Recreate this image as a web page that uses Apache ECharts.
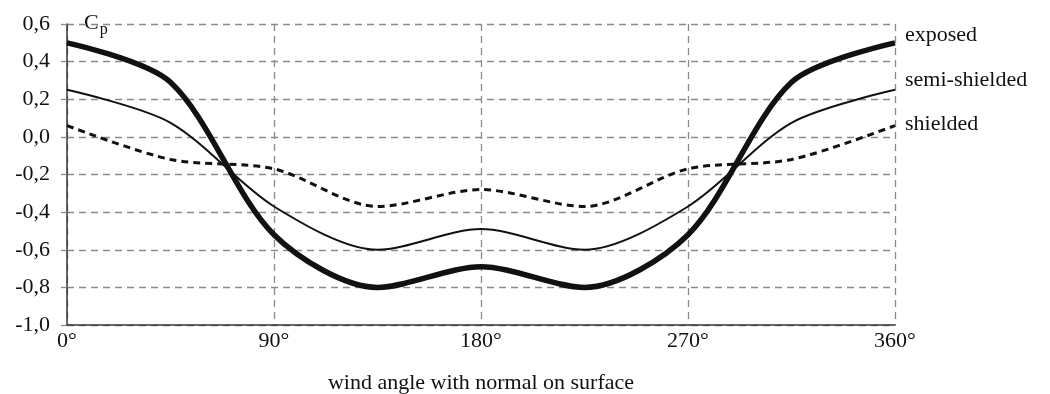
<!DOCTYPE html>
<html>
<head>
<meta charset="utf-8">
<script src="https://cdn.jsdelivr.net/npm/echarts@6/dist/echarts.min.js"></script>
<style>html,body{margin:0;padding:0;background:#fff;}#c{width:1050px;height:394px;}</style>
</head>
<body>
<div id="c"></div>
<script>
const angles = [0, 45, 90, 135, 180, 225, 270, 315, 360];
const exposed = [0.50, 0.29, -0.52, -0.80, -0.69, -0.80, -0.52, 0.29, 0.50];
const semiShielded = [0.25, 0.075, -0.37, -0.60, -0.49, -0.60, -0.37, 0.075, 0.25];
const shielded = [0.06, -0.12, -0.17, -0.37, -0.28, -0.37, -0.17, -0.12, 0.06];
const seriesNames = ['exposed', 'semi-shielded', 'shielded'];
const xTicks = [0, 90, 180, 270, 360];
const xTitle = 'wind angle with normal on surface';

const FONT = '"Liberation Serif", "DejaVu Serif", serif';
const FS = 22;
const pair = arr => angles.map((a, i) => [a, arr[i]]);

const chart = echarts.init(document.getElementById('c'));
const mk = (name, data, width, type, smooth, off) => ({
  name, type: 'line', data: pair(data), smooth, symbol: 'none',
  lineStyle: { color: '#111', width, type, cap: 'butt' },
  endLabel: { show: true, formatter: name, distance: 10, offset: off,
    color: '#111', fontFamily: FONT, fontSize: FS }
});
chart.setOption({
  animation: false,
  grid: { left: 67, right: 155, top: 24, bottom: 69, containLabel: false, outerBoundsMode: 'none' },
  xAxis: {
    type: 'value', min: 0, max: 360, interval: 90,
    name: xTitle, nameLocation: 'middle', nameGap: 47,
    nameTextStyle: { color: '#111', fontFamily: FONT, fontSize: FS },
    axisLine: { onZero: false, lineStyle: { color: '#333', width: 1.5 } },
    axisTick: { show: false },
    axisLabel: { color: '#111', fontFamily: FONT, fontSize: FS, margin: 5,
      formatter: v => xTicks.includes(v) ? v + '°' : '' },
    splitLine: { show: true, lineStyle: { color: '#8a8a8a', type: [7, 5], width: 1.3 } }
  },
  yAxis: {
    type: 'value', min: -1.0, max: 0.6, interval: 0.2,
    axisLine: { show: true, onZero: false, lineStyle: { color: '#333', width: 1.5 } },
    axisTick: { show: true, length: 6, lineStyle: { color: '#8a8a8a', width: 1.3 } },
    axisLabel: { color: '#111', fontFamily: FONT, fontSize: FS, margin: 17,
      formatter: v => v.toFixed(1).replace('.', ',') },
    splitLine: { show: true, lineStyle: { color: '#8a8a8a', type: [7, 5], width: 1.3 } }
  },
  graphic: [{
    type: 'text', left: 84, top: 12,
    style: { text: '{c|C}{p|p}', rich: {
      c: { fontFamily: FONT, fontSize: 22, fill: '#111' },
      p: { fontFamily: FONT, fontSize: 16, fill: '#111', padding: [14, 0, 0, 1] } } }
  }],
  series: [
    mk(seriesNames[0], exposed, 5.5, 'solid', 0.3, [0, -8]),
    mk(seriesNames[1], semiShielded, 2, 'solid', 0.3, [0, -10]),
    mk(seriesNames[2], shielded, 3, [7, 5], 0.3, [0, -1])
  ]
});
</script>
</body>
</html>
